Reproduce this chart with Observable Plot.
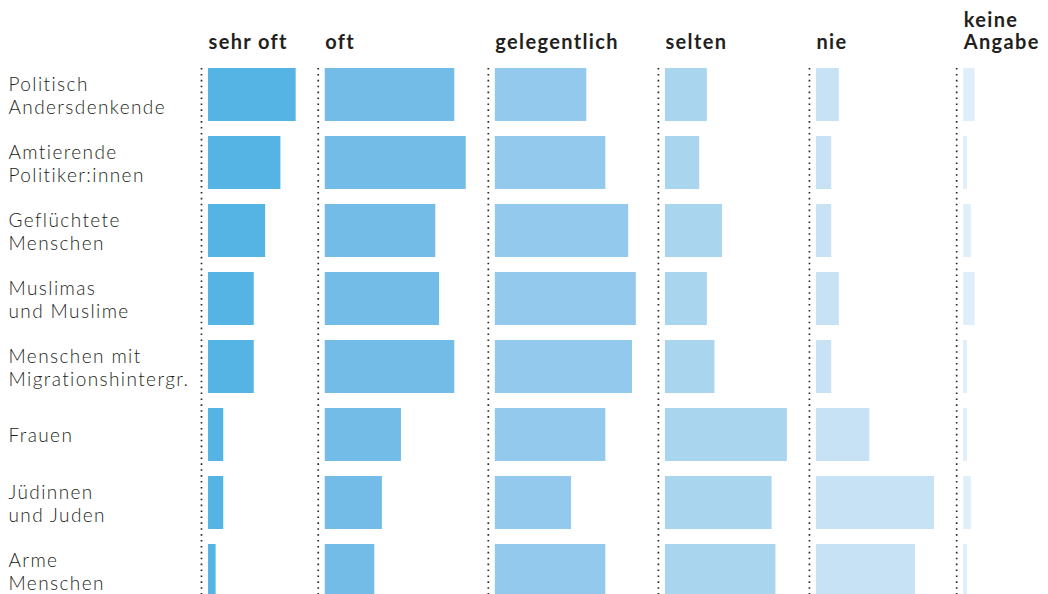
<!DOCTYPE html>
<html>
<head>
<meta charset="utf-8">
<script src="https://cdn.jsdelivr.net/npm/d3@7"></script>
<script src="https://cdn.jsdelivr.net/npm/@observablehq/plot@0.6"></script>
<style>
  html, body { margin: 0; padding: 0; background: #fff; }
  #chart { width: 1048px; height: 594px; overflow: hidden; }
</style>
</head>
<body>
<div id="chart"></div>
<script>
// ---- data ----
const categories = [
  "Politisch\nAndersdenkende",
  "Amtierende\nPolitiker:innen",
  "Geflüchtete\nMenschen",
  "Muslimas\nund Muslime",
  "Menschen mit\nMigrationshintergr.",
  "Frauen",
  "Jüdinnen\nund Juden",
  "Arme\nMenschen"
];
const answers = ["sehr oft", "oft", "gelegentlich", "selten", "nie", "keine Angabe"];
const headerLabels = ["sehr oft", "oft", "gelegentlich", "selten", "nie", "keine\nAngabe"];
const sehrOft      = [23, 19, 15, 12, 12, 4, 4, 2];
const oft          = [34, 37, 29, 30, 34, 20, 15, 13];
const gelegentlich = [24, 29, 35, 37, 36, 29, 20, 29];
const selten       = [11, 9, 15, 11, 13, 32, 28, 29];
const nie          = [6, 4, 4, 6, 4, 14, 31, 26];
const keineAngabe  = [3, 1, 2, 3, 1, 1, 2, 1];
const colors = ["#56b4e5", "#74bce8", "#92c9ec", "#a9d5ef", "#c7e2f4", "#e0eef9"];

// ---- build table ----
const series = [sehrOft, oft, gelegentlich, selten, nie, keineAngabe];
const lead = 1.84;   // gap between dotted line and bar start (in % units)
const trail = 5.8;   // gap after the longest bar of a column
const dotPos = [];
let acc = 0;
series.forEach((s, i) => {
  dotPos.push(acc);
  acc += lead + d3.max(s) + trail;
});
const rows = [];
series.forEach((s, i) => {
  s.forEach((v, j) => {
    rows.push({answer: answers[i], category: categories[j], start: dotPos[i] + lead, value: v});
  });
});

const chart = Plot.plot({
  width: 1048,
  height: 594,
  marginTop: 0, marginBottom: 0, marginLeft: 0, marginRight: 0,
  x: {domain: [0, 222.3], range: [201, 1048], axis: null},
  y: {domain: categories, range: [60.5, 604.5], paddingInner: 0.22, paddingOuter: 0.11, axis: null},
  color: {domain: answers, range: colors},
  style: {fontFamily: "Lato, sans-serif", background: "#fff", overflow: "hidden"},
  marks: [
    Plot.ruleX(dotPos, {x: d => d, insetTop: 68, stroke: "#2a2a2a", strokeWidth: 1.7, strokeDasharray: "1.6 4.3"}),
    Plot.barX(rows, {x1: "start", x2: d => d.start + d.value, y: "category", fill: "answer"}),
    Plot.text(headerLabels, {
      x: (d, i) => dotPos[i] + lead, text: d => d, frameAnchor: "top",
      textAnchor: "start", lineAnchor: "bottom", dy: 48, lineHeight: 1.07,
      fontSize: 20, fontWeight: 700, fill: "#231f20"
    }),
    Plot.text(categories, {
      y: d => d, text: d => d, frameAnchor: "left", dx: 8,
      textAnchor: "start", lineAnchor: "middle", lineHeight: 1.19,
      fontSize: 19, fontWeight: 300, fill: "#231f20"
    })
  ]
});
// letter spacing (tracking) as in the reference typography
d3.select(chart).selectAll("g[font-weight='700'] text, g[font-weight='700'] tspan")
  .attr("letter-spacing", "1.35px");
d3.select(chart).selectAll("g[font-weight='300'] text, g[font-weight='300'] tspan")
  .attr("letter-spacing", "1.4px");
document.getElementById("chart").appendChild(chart);
</script>
</body>
</html>
